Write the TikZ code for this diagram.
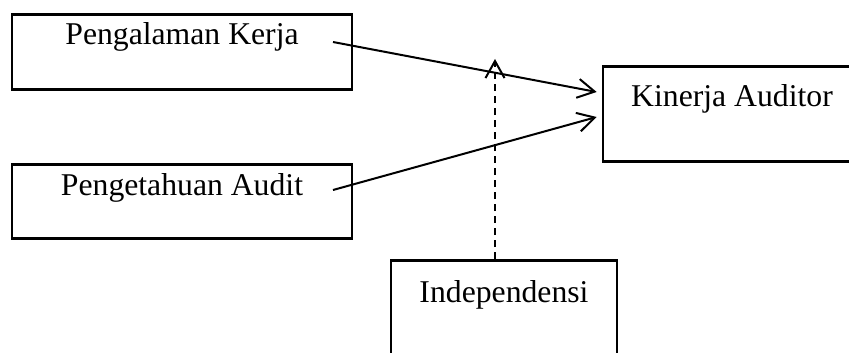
\documentclass[tikz,border=0pt]{standalone}
\usepackage{fontspec}
\setmainfont{Liberation Serif}
\usetikzlibrary{arrows.meta,calc}

\begin{document}
\begin{tikzpicture}[x=1pt,y=-1pt]
\tikzset{varbox/.style={draw=black,line width=2.6pt,inner xsep=0pt,inner ysep=0pt,anchor=north,font=\fontsize{31.7}{38}\selectfont}};
\tikzset{link/.style={line width=2pt,-{Straight Barb[length=17pt,width=19pt,line width=2pt]}}};
\tikzset{modlink/.style={link,dash pattern=on 7pt off 5pt}};

\pgfmathsetmacro{\wleft}{340};
\pgfmathsetmacro{\wperf}{258};
\pgfmathsetmacro{\wind}{226};

\useasboundingbox (0,0) rectangle (849,353);
\clip (0,0) rectangle (849,353);

\node [varbox, minimum width=\wleft pt, text height=30pt, text depth=45pt] (exp) at (182,13) {Pengalaman Kerja};
\node [varbox, minimum width=\wleft pt, text height=31pt, text depth=43pt] (know) at (182,163) {Pengetahuan Audit};
\node [varbox, minimum width=\wperf pt, text height=40pt, text depth=55pt] (perf) at (732,65) {Kinerja Auditor};
\node [varbox, minimum width=\wind pt, text height=42pt, text depth=59pt] (ind) at (504,259) {Independensi};

\coordinate (expout) at (333,42);
\coordinate (knowout) at (333,190);
\coordinate (perfinA) at ($(perf.north west)+(-5,27)$);
\coordinate (perfinB) at ($(perf.north west)+(-5,52)$);
\coordinate (indout) at ($(ind.north)+(-9,0)$);
\coordinate (modtip) at (495,59);

\draw [link] (expout) -- (perfinA);
\draw [link] (knowout) -- (perfinB);
\draw [modlink] (indout) -- (modtip);
\end{tikzpicture}
\end{document}
